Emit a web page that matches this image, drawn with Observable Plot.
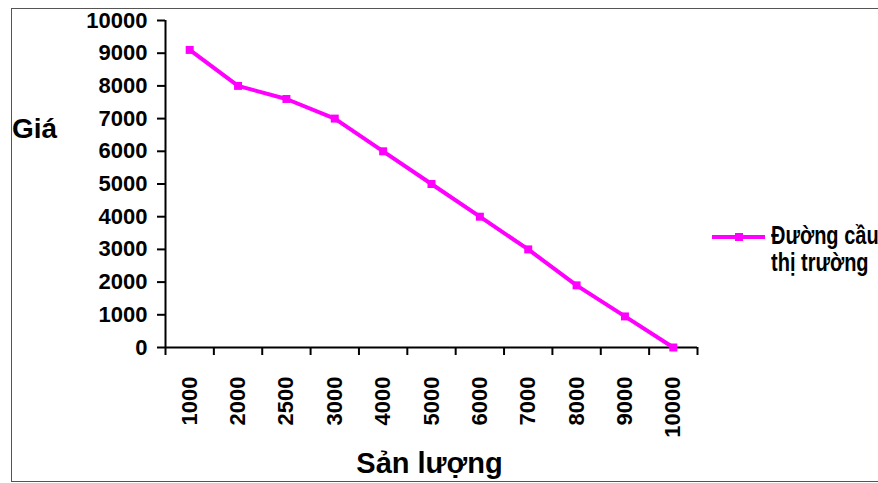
<!DOCTYPE html>
<html>
<head>
<meta charset="utf-8">
<script src="https://cdn.jsdelivr.net/npm/d3@7"></script>
<script src="https://cdn.jsdelivr.net/npm/@observablehq/plot@0.6"></script>
<style>
  html, body { margin: 0; padding: 0; background: #fff; overflow: hidden; }
  #wrap { position: relative; width: 878px; height: 483px; overflow: hidden;
          font-family: "Liberation Sans", Arial, sans-serif; font-weight: bold; color: #000; }
  #border { position: absolute; left: 11px; top: 8px; width: 900px; height: 474px;
            border: 1px solid #555; box-sizing: border-box; }
  #chart { position: absolute; left: 0; top: 0; }
  .lab { position: absolute; white-space: nowrap; }
</style>
</head>
<body>
<div id="wrap">
  <div id="border"></div>
  <div id="chart"></div>
  <div class="lab" id="ylab" style="left:12px; top:113px; font-size:28px;">Giá</div>
  <div class="lab" id="xlab" style="left:0; width:859px; text-align:center; top:449px; font-size:29px; line-height:29px;">Sản lượng</div>
  <div class="lab" id="legend" style="left:712px; top:223px; font-size:20px; line-height:21px;">
    <svg width="56" height="20" style="position:absolute; left:0; top:5px;">
      <line x1="0" x2="53" y1="9" y2="9" stroke="#FF00FF" stroke-width="4"></line>
      <rect x="23" y="5" width="8" height="8" fill="#FF00FF"></rect>
    </svg>
    <div style="position:absolute; left:59px; top:0; transform:scaleY(1.25); transform-origin:0 0;">Đường cầu<br>thị trường</div>
  </div>
</div>
<script>
const quantities = ["1000","2000","2500","3000","4000","5000","6000","7000","8000","9000","10000"];
const prices = [9100, 8000, 7600, 7000, 6000, 5000, 4000, 3000, 1900, 950, 0];
const priceTicks = [0,1000,2000,3000,4000,5000,6000,7000,8000,9000,10000];
const seriesName = "Đường cầu thị trường";

const data = quantities.map((q, i) => ({q, i, pos: i + 0.5, price: prices[i]}));
const boundaries = d3.range(quantities.length + 1);

const chart = Plot.plot({
  width: 878,
  height: 483,
  marginLeft: 165,
  marginRight: 181,
  marginTop: 20,
  marginBottom: 136,
  style: {fontFamily: "Liberation Sans, Arial, sans-serif", fontWeight: "bold", color: "#000", background: "transparent"},
  x: {domain: [0, quantities.length]},
  y: {domain: [0, 10000]},
  marks: [
    Plot.ruleY([0], {stroke: "#000", strokeWidth: 2}),
    Plot.ruleX([0], {stroke: "#000", strokeWidth: 2}),
    Plot.axisY({ticks: priceTicks, tickSize: 8, tickPadding: 10, fontSize: 22, label: null, stroke: "#000", strokeWidth: 2, tickFormat: d => String(d)}),
    Plot.axisX({ticks: boundaries, tickSize: 8, tickFormat: () => "", label: null, stroke: "#000", strokeWidth: 2}),
    Plot.axisX({ticks: data.map(d => d.pos), tickSize: 0, tickPadding: 29, tickRotate: -90, fontSize: 22, label: null,
                tickFormat: p => quantities[Math.round(p - 0.5)]}),
    Plot.line(data, {x: "pos", y: "price", stroke: "#FF00FF", strokeWidth: 4}),
    Plot.dot(data, {x: "pos", y: "price", symbol: "square", r: 4.5, fill: "#FF00FF"})
  ]
});
document.getElementById("chart").appendChild(chart);
</script>
</body>
</html>
